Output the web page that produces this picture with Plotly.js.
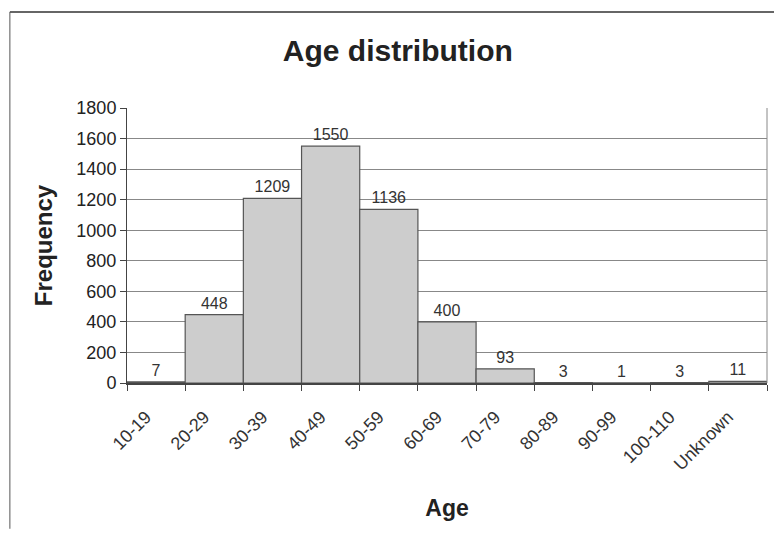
<!DOCTYPE html>
<html>
<head>
<meta charset="utf-8">
<script src="https://cdn.plot.ly/plotly-3.0.1.min.js"></script>
<style>html,body{margin:0;padding:0;background:#fff;}#chart{width:774px;height:536px;}</style>
</head>
<body>
<div id="chart"></div>
<script>
const categories = ["10-19","20-29","30-39","40-49","50-59","60-69","70-79","80-89","90-99","100-110","Unknown"];
const frequencies = [7, 448, 1209, 1550, 1136, 400, 93, 3, 1, 3, 11];
const yTicks = [0, 200, 400, 600, 800, 1000, 1200, 1400, 1600, 1800];

const font = "Liberation Sans, Arial, sans-serif";

const trace = {
  type: "bar",
  x: categories,
  y: frequencies,
  text: frequencies.map(String),
  textposition: "outside",
  cliponaxis: false,
  textfont: {family: font, size: 16, color: "#333"},
  marker: {color: "#cdcdcd", line: {color: "#555", width: 1.2}},
  hoverinfo: "x+y"
};

const layout = {
  width: 774, height: 536,
  margin: {l: 127, r: 7, t: 108, b: 153},
  paper_bgcolor: "#ffffff",
  plot_bgcolor: "#ffffff",
  bargap: 0,
  showlegend: false,
  title: {text: "Age distribution", font: {family: font, size: 30, color: "#222", weight: "bold"}, x: 0.514, xanchor: "center", y: 0.905, yanchor: "middle"},
  xaxis: {
    type: "category",
    tickangle: -45,
    tickson: "boundaries",
    ticks: "outside", ticklen: 6, tickcolor: "#444",
    ticklabelstandoff: 15,
    ticklabelshift: -10,
    showline: true, linecolor: "#444", linewidth: 1.5,
    showgrid: false,
    tickfont: {family: font, size: 18, color: "#333"},
    title: {text: "Age", font: {family: font, size: 23, color: "#222", weight: "bold"}, standoff: 26},
    mirror: false
  },
  yaxis: {
    range: [0, 1800],
    tickvals: yTicks,
    ticks: "outside", ticklen: 6, tickcolor: "#444",
    showline: true, linecolor: "#444", linewidth: 1,
    showgrid: true, gridcolor: "#888", gridwidth: 1,
    zeroline: false,
    tickfont: {family: font, size: 18, color: "#222"},
    title: {text: "Frequency", font: {family: font, size: 24, color: "#222", weight: "bold"}, standoff: 16}
  },
  shapes: [
    {type: "line", xref: "paper", yref: "paper", x0: 1, x1: 1, y0: 0, y1: 1, line: {color: "#888", width: 1}},
    {type: "line", xref: "paper", yref: "paper", x0: -0.183, x1: 1.02, y0: 1.349, y1: 1.349, line: {color: "#333", width: 1.5}},
    {type: "line", xref: "paper", yref: "paper", x0: -0.183, x1: -0.183, y0: 1.349, y1: -0.53, line: {color: "#555", width: 1}}
  ]
};

Plotly.newPlot("chart", [trace], layout, {displayModeBar: false, staticPlot: true});
</script>
</body>
</html>
